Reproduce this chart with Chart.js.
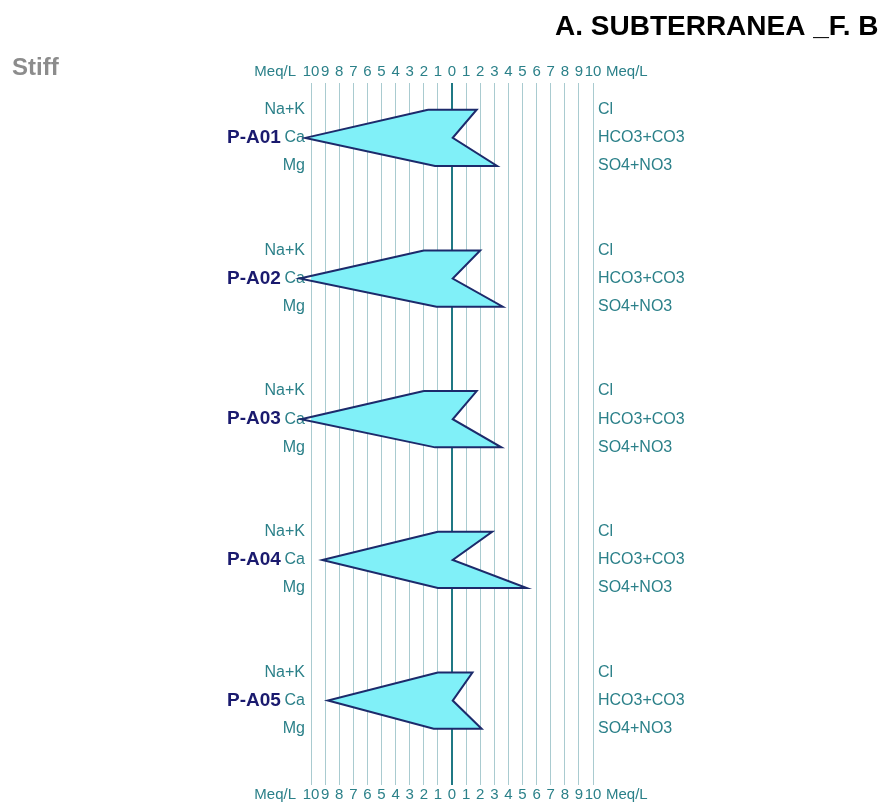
<!DOCTYPE html>
<html><head><meta charset="utf-8">
<script src="https://cdn.jsdelivr.net/npm/chart.js@4.4.1/dist/chart.umd.min.js"></script>
<style>html,body{margin:0;padding:0;background:#fff;overflow:hidden}canvas{display:block}</style>
</head><body>
<canvas id="c" width="878" height="802"></canvas>
<script>
// ---- data (meq/L) ----
const wells = ['P-A01', 'P-A02', 'P-A03', 'P-A04', 'P-A05'];
const naK  = [1.7, 2.0, 2.0, 1.0, 1.0];
const ca   = [10.4, 10.8, 10.7, 9.2, 8.8];
const mg   = [1.2, 1.1, 1.2, 1.0, 1.3];
const cl   = [1.75, 2.0, 1.75, 2.85, 1.45];
const hco3 = [0.05, 0.05, 0.05, 0.05, 0.05];
const so4  = [3.2, 3.6, 3.5, 5.3, 2.1];
const cationLabels = ['Na+K', 'Ca', 'Mg'];
const anionLabels = ['Cl', 'HCO3+CO3', 'SO4+NO3'];
const tickValues = [-10,-9,-8,-7,-6,-5,-4,-3,-2,-1,0,1,2,3,4,5,6,7,8,9,10];
const unitLabel = 'Meq/L';
const titleText = 'A. SUBTERRANEA _F. B';
const chartLabel = 'Stiff';

const FONT = '"Liberation Sans", Arial, sans-serif';
const textColor = '#2b8089';
const nameColor = '#1a1a6e';
Chart.defaults.font.family = FONT;

const rows = [];
wells.forEach((w, i) => { rows.push(5 * i, 5 * i + 1, 5 * i + 2); });

const datasets = wells.map((w, i) => {
  const r = 5 * i;
  return {
    label: w,
    data: [
      {x: -naK[i], y: r}, {x: -ca[i], y: r + 1}, {x: -mg[i], y: r + 2},
      {x: so4[i], y: r + 2}, {x: hco3[i], y: r + 1}, {x: cl[i], y: r},
      {x: -naK[i], y: r}
    ],
    showLine: true, fill: 'shape', tension: 0,
    backgroundColor: '#80f0f8', borderColor: '#1c2a6b', borderWidth: 2,
    pointRadius: 0, pointHoverRadius: 0, clip: false,
    xAxisID: 'x', yAxisID: 'y'
  };
});

const yBase = () => ({
  type: 'linear', axis: 'y', min: -0.95, max: 24, reverse: true,
  grid: {display: false, drawTicks: false}, border: {display: false},
  afterBuildTicks: s => { s.ticks = rows.map(v => ({value: v})); }
});

const textPlugin = {
  id: 'texts',
  afterDraw(chart) {
    const ctx = chart.ctx, x = chart.scales.x, xt = chart.scales.xTop;
    ctx.save();
    ctx.textBaseline = 'alphabetic';
    ctx.textAlign = 'left';
    ctx.font = 'bold 28px ' + FONT; ctx.fillStyle = '#000';
    ctx.fillText(titleText, 555, 35);
    ctx.font = 'bold 24px ' + FONT; ctx.fillStyle = '#8c8c8c';
    ctx.fillText(chartLabel, 12, 75);
    ctx.font = '15px ' + FONT; ctx.fillStyle = textColor; ctx.textBaseline = 'middle';
    const l = x.getPixelForValue(-10), r = x.getPixelForValue(10);
    const yt = xt.bottom - 2 - 9, yb = x.top + 1 + 9;
    ctx.textAlign = 'right';
    ctx.fillText(unitLabel, l - 15, yt); ctx.fillText(unitLabel, l - 15, yb);
    ctx.textAlign = 'left';
    ctx.fillText(unitLabel, r + 13, yt); ctx.fillText(unitLabel, r + 13, yb);
    ctx.restore();
  }
};

new Chart(document.getElementById('c'), {
  type: 'scatter',
  data: {datasets},
  plugins: [textPlugin],
  options: {
    responsive: false, animation: false, devicePixelRatio: 1,
    layout: {padding: {left: 221, right: 185, top: 60, bottom: 0}},
    plugins: {legend: {display: false}, tooltip: {enabled: false}, title: {display: false}},
    scales: {
      x: {
        type: 'linear', axis: 'x', position: 'bottom', min: -10, max: 10,
        afterBuildTicks: s => { s.ticks = tickValues.map(v => ({value: v})); },
        afterFit: s => { s.height = 17; },
        ticks: {autoSkip: false, maxRotation: 0, minRotation: 0, padding: 1, color: textColor,
          font: {size: 15}, callback: v => String(Math.abs(v))},
        grid: {drawTicks: false,
          color: c => (c.tick && c.tick.value === 0) ? '#1f7884' : '#a9cbd0',
          lineWidth: c => (c.tick && c.tick.value === 0) ? 2 : 1},
        border: {display: false}
      },
      xTop: {
        type: 'linear', axis: 'x', position: 'top', min: -10, max: 10,
        afterBuildTicks: s => { s.ticks = tickValues.map(v => ({value: v})); },
        afterFit: s => { s.height = 23; },
        ticks: {autoSkip: false, maxRotation: 0, minRotation: 0, padding: 2, color: textColor,
          font: {size: 15}, callback: v => String(Math.abs(v))},
        grid: {display: false, drawTicks: false}, border: {display: false}
      },
      y: Object.assign(yBase(), {
        position: 'left', weight: 0,
        afterFit: s => { s.width = 60; },
        ticks: {autoSkip: false, padding: 6, color: textColor, font: {size: 16},
          callback: v => cationLabels[((Math.round(v) % 5) + 5) % 5]}
      }),
      yName: Object.assign(yBase(), {
        position: 'left', weight: 1,
        afterBuildTicks: s => { s.ticks = wells.map((w, i) => ({value: 5 * i + 1})); },
        afterFit: s => { s.width = 30; },
        ticks: {autoSkip: false, mirror: true, padding: -24, color: nameColor, font: {size: 19, weight: 'bold'},
          callback: v => wells[Math.round((v - 1) / 5)]}
      }),
      yRight: Object.assign(yBase(), {
        position: 'right',
        afterFit: s => { s.width = 100; },
        ticks: {autoSkip: false, padding: 5, color: textColor, font: {size: 16},
          callback: v => anionLabels[((Math.round(v) % 5) + 5) % 5]}
      })
    }
  }
});
</script>
</body></html>
